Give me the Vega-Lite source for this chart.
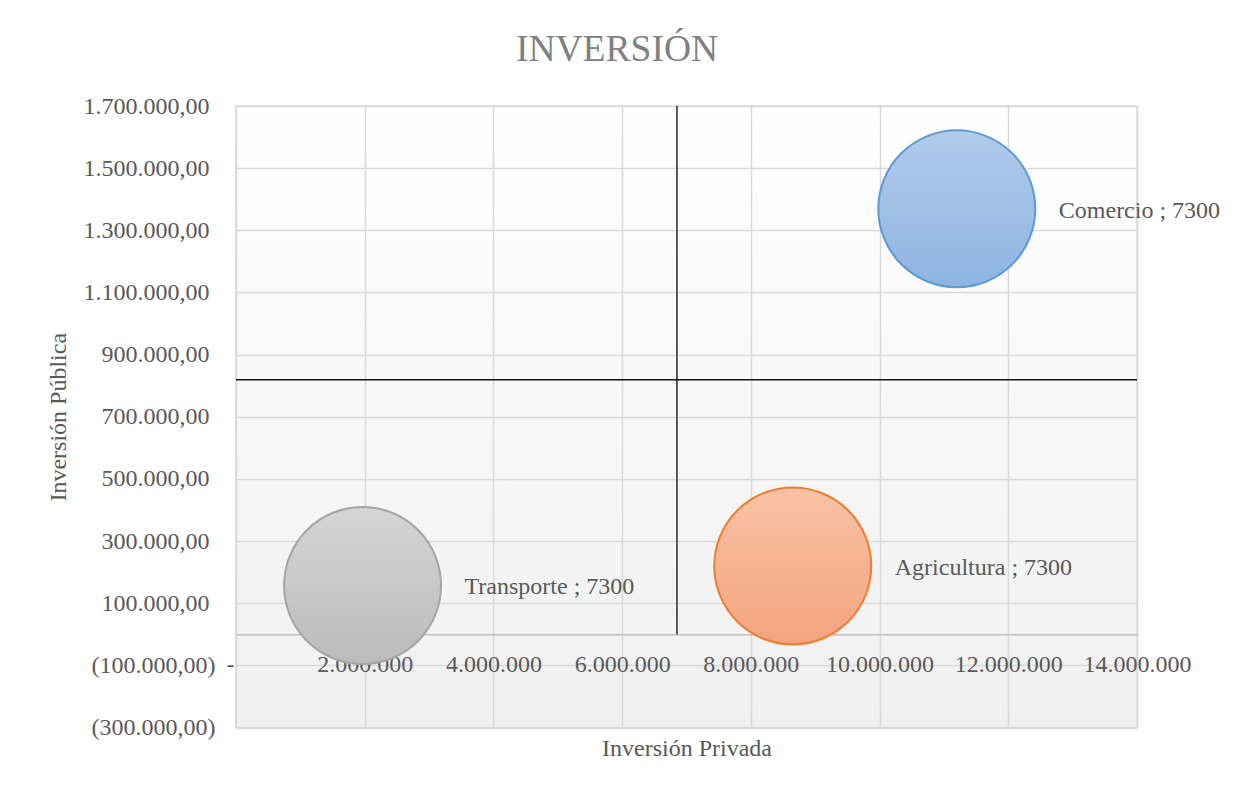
{
  "$schema": "https://vega.github.io/schema/vega-lite/v6.json",
  "autosize": "none",
  "width": 901,
  "height": 621.5,
  "padding": {"left": 236, "top": 106, "right": 98, "bottom": 59.5},
  "background": "#ffffff",
  "title": {
    "text": "INVERSIÓN",
    "font": "Liberation Serif",
    "fontSize": 37.5,
    "fontWeight": "normal",
    "color": "#808080",
    "anchor": "middle",
    "frame": "group",
    "dx": -69.5,
    "baseline": "alphabetic",
    "offset": -4
  },
  "config": {
    "locale": {
      "number": {"decimal": ",", "thousands": ".", "grouping": [3], "currency": ["", ""]}
    },
    "view": {
      "stroke": "#d9d9d9",
      "strokeWidth": 1.5,
      "fill": {
        "gradient": "linear",
        "x1": 0, "y1": 0, "x2": 0, "y2": 1,
        "stops": [
          {"offset": 0, "color": "#ffffff"},
          {"offset": 1, "color": "#f0f0f0"}
        ]
      }
    },
    "axis": {
      "labelFont": "Liberation Serif",
      "labelFontSize": 24,
      "labelColor": "#595959",
      "titleFont": "Liberation Serif",
      "titleFontSize": 24,
      "titleFontWeight": "normal",
      "titleColor": "#595959",
      "gridColor": "#d9d9d9",
      "gridWidth": 1.5,
      "ticks": false,
      "tickSize": 0
    }
  },
  "data": {
    "values": [
      {"name": "Transporte", "privada": 1966000, "publica": 157000, "size": 7300},
      {"name": "Agricultura", "privada": 8651000, "publica": 219700, "size": 7300},
      {"name": "Comercio", "privada": 11200000, "publica": 1369200, "size": 7300}
    ]
  },
  "encoding": {
    "x": {
      "field": "privada",
      "type": "quantitative",
      "scale": {"domain": [0, 14000000], "nice": false, "zero": false},
      "axis": {
        "title": "Inversión Privada",
        "values": [0, 2000000, 4000000, 6000000, 8000000, 10000000, 12000000, 14000000],
        "labelExpr": "datum.value == 0 ? '-' : format(datum.value, ',.0f')",
        "labelOffset": {"condition": {"test": "datum.value == 0", "value": -6}, "value": 0},
        "labelBaseline": "alphabetic",
        "labelPadding": 37,
        "offset": -93.2,
        "domain": true,
        "domainColor": "#bfbfbf",
        "domainWidth": 1.5,
        "labelFlush": false,
        "labelOverlap": false,
        "titleBaseline": "alphabetic",
        "titleY": 121.3
      }
    },
    "y": {
      "field": "publica",
      "type": "quantitative",
      "scale": {"domain": [-300000, 1700000], "nice": false, "zero": false},
      "axis": {
        "title": "Inversión Pública",
        "values": [-300000, -100000, 100000, 300000, 500000, 700000, 900000, 1100000, 1300000, 1500000, 1700000],
        "labelExpr": "datum.value < 0 ? '(' + format(-datum.value, ',.2f') + ')' : format(datum.value, ',.2f')",
        "labelPadding": {"condition": {"test": "datum.value < 0", "value": 21}, "value": 27},
        "domain": false,
        "labelOverlap": false,
        "labelFlush": false,
        "titleBaseline": "alphabetic",
        "titleX": -171,
        "titleY": 310.75
      }
    }
  },
  "layer": [
    {
      "data": {"values": [{"privada": 6852000, "publica": 0, "publica2": 1700000}]},
      "mark": {"type": "rule", "color": "#333333", "strokeWidth": 1.6},
      "encoding": {
        "y2": {"field": "publica2"}
      }
    },
    {
      "data": {"values": [{"privada": 0, "privada2": 14000000, "publica": 819000}]},
      "mark": {"type": "rule", "color": "#111111", "strokeWidth": 1.4},
      "encoding": {
        "x2": {"field": "privada2"}
      }
    },
    {
      "transform": [{"filter": "datum.name == 'Transporte'"}],
      "mark": {
        "type": "point", "shape": "circle", "filled": true, "opacity": 1, "fillOpacity": 1,
        "stroke": "#a5a5a5", "strokeWidth": 2,
        "fill": {"gradient": "linear", "x1": 0, "y1": 0, "x2": 0, "y2": 1,
          "stops": [{"offset": 0, "color": "#d5d5d5"}, {"offset": 1, "color": "#bbbbbb"}]}
      },
      "encoding": {
        "size": {"field": "size", "type": "quantitative", "scale": {"domain": [0, 7300], "range": [0, 24649]}, "legend": null}
      }
    },
    {
      "transform": [{"filter": "datum.name == 'Agricultura'"}],
      "mark": {
        "type": "point", "shape": "circle", "filled": true, "opacity": 1, "fillOpacity": 1,
        "stroke": "#ed7d31", "strokeWidth": 2,
        "fill": {"gradient": "linear", "x1": 0, "y1": 0, "x2": 0, "y2": 1,
          "stops": [{"offset": 0, "color": "#f8c2a6"}, {"offset": 1, "color": "#f4a47e"}]}
      },
      "encoding": {
        "size": {"field": "size", "type": "quantitative", "scale": {"domain": [0, 7300], "range": [0, 24649]}, "legend": null}
      }
    },
    {
      "transform": [{"filter": "datum.name == 'Comercio'"}],
      "mark": {
        "type": "point", "shape": "circle", "filled": true, "opacity": 1, "fillOpacity": 1,
        "stroke": "#5b9bd5", "strokeWidth": 2,
        "fill": {"gradient": "linear", "x1": 0, "y1": 0, "x2": 0, "y2": 1,
          "stops": [{"offset": 0, "color": "#b0cbeb"}, {"offset": 1, "color": "#8eb4e1"}]}
      },
      "encoding": {
        "size": {"field": "size", "type": "quantitative", "scale": {"domain": [0, 7300], "range": [0, 24649]}, "legend": null}
      }
    },
    {
      "transform": [{"calculate": "datum.name + ' ; ' + datum.size", "as": "label"}],
      "mark": {
        "type": "text", "align": "left", "baseline": "alphabetic", "dx": 102, "dy": 9,
        "font": "Liberation Serif", "fontSize": 24, "color": "#595959"
      },
      "encoding": {
        "text": {"field": "label", "type": "nominal"}
      }
    }
  ]
}
